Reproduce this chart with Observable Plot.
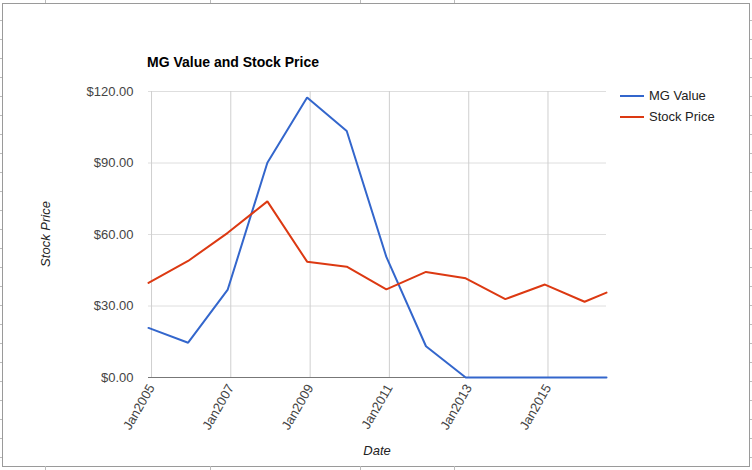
<!DOCTYPE html>
<html>
<head>
<meta charset="utf-8">
<script src="https://cdn.jsdelivr.net/npm/d3@7"></script>
<script src="https://cdn.jsdelivr.net/npm/@observablehq/plot@0.6"></script>
<style>
  html, body { margin: 0; padding: 0; background: #fff; }
  #wrap { position: relative; width: 752px; height: 470px; overflow: hidden; font-family: Arial, "Liberation Sans", sans-serif; }
  #frame { position: absolute; left: 2px; top: 3px; width: 746px; height: 462px; border: 1px solid #9a9a9a; }
  #chart { position: absolute; left: 0; top: 0; }
  .tt { position: absolute; white-space: nowrap; }
  #title { left: 147px; top: 54px; font-size: 14px; font-weight: bold; color: #000; }
  #ylab { left: 45px; top: 234px; font-size: 13px; font-style: italic; color: #222; transform: translate(-50%, -50%) rotate(-90deg); }
  #xlab { left: 377px; top: 450px; font-size: 13px; font-style: italic; color: #222; transform: translate(-50%, -50%); }
  .leg { position: absolute; left: 620px; font-size: 13px; color: #222; display: flex; align-items: center; }
  .leg i { display: inline-block; width: 24px; height: 2px; margin-right: 5px; }
  .tick { position: absolute; background: #bbb; }
</style>
</head>
<body>
<div id="wrap">
  <div id="frame"></div>
  <div id="chart"></div>
  <div class="tt" id="title">MG Value and Stock Price</div>
  <div class="tt" id="ylab">Stock Price</div>
  <div class="tt" id="xlab">Date</div>
  <div class="leg" id="leg0" style="top:88px"><i></i><span></span></div>
  <div class="leg" id="leg1" style="top:109px"><i></i><span></span></div>
</div>
<script>
// Data
const dates = ["2004-12-04","2005-12-04","2006-12-04","2007-12-04","2008-12-04","2009-12-04",
               "2010-12-04","2011-12-04","2012-12-04","2013-12-04","2014-12-04","2015-12-04","2016-06-23"];
const mgValue = [20.8, 14.6, 36.9, 90.1, 117.5, 103.4, 50.6, 13.1, 0, 0, 0, 0, 0];
const stockPrice = [39.7, 48.9, 60.7, 73.9, 48.6, 46.5, 37.0, 44.3, 41.6, 32.9, 39.0, 31.8, 35.6];
const seriesNames = ["MG Value", "Stock Price"];
const seriesColors = ["#3366cc", "#dc3912"];
const yTicks = [0, 30, 60, 90, 120];
const xTickYears = [2005, 2007, 2009, 2011, 2013, 2015];

const parse = d3.utcParse("%Y-%m-%d");
const rows = [];
dates.forEach((d, i) => {
  rows.push({date: parse(d), value: mgValue[i], series: seriesNames[0]});
  rows.push({date: parse(d), value: stockPrice[i], series: seriesNames[1]});
});
const xTicks = xTickYears.map(y => new Date(Date.UTC(y, 0, 1)));
const xDomain = [parse(dates[0]), parse(dates[dates.length - 1])];

const chart = Plot.plot({
  width: 752,
  height: 470,
  marginLeft: 148,
  marginRight: 146,
  marginTop: 91,
  marginBottom: 93,
  style: {fontFamily: 'Arial, "Liberation Sans", sans-serif', fontSize: "13px", background: "transparent", overflow: "visible"},
  x: {type: "utc", domain: xDomain},
  y: {domain: [0, 120]},
  color: {domain: seriesNames, range: seriesColors},
  marks: [
    Plot.gridY(yTicks, {stroke: "#dedede", strokeOpacity: 1, strokeWidth: 1}),
    Plot.gridX(xTicks, {stroke: "#cfcfcf", strokeOpacity: 1, strokeWidth: 1}),
    Plot.axisY(yTicks, {tickSize: 0, tickPadding: 15, tickFormat: d => "$" + d.toFixed(2), fill: "#444", fontSize: 13, label: null}),
    Plot.axisX(xTicks, {tickSize: 0, tickPadding: 8, tickRotate: -60, tickFormat: d => "Jan" + d.getUTCFullYear(), fill: "#444", fontSize: 13, label: null}),
    Plot.ruleY([0], {stroke: "#777", strokeWidth: 1}),
    Plot.line(rows, {x: "date", y: "value", z: "series", stroke: "series", strokeWidth: 2, strokeLinejoin: "miter"})
  ]
});
document.getElementById("chart").appendChild(chart);

seriesNames.forEach((n, i) => {
  const el = document.getElementById("leg" + i);
  el.querySelector("i").style.background = seriesColors[i];
  el.querySelector("span").textContent = n;
});

// faint spreadsheet cell marks around the frame
const wrap = document.getElementById("wrap");
[45, 210, 360, 454].forEach(x => {
  [[0, 3], [466, 4]].forEach(([t, h]) => {
    const d = document.createElement("div"); d.className = "tick";
    d.style.left = x + "px"; d.style.top = t + "px"; d.style.width = "1px"; d.style.height = h + "px";
    wrap.appendChild(d);
  });
});
for (let y = 20; y < 466; y += 19) {
  [[0, 2], [750, 2]].forEach(([l, w]) => {
    const d = document.createElement("div"); d.className = "tick";
    d.style.left = l + "px"; d.style.top = y + "px"; d.style.width = w + "px"; d.style.height = "1px";
    wrap.appendChild(d);
  });
}
</script>
</body>
</html>
